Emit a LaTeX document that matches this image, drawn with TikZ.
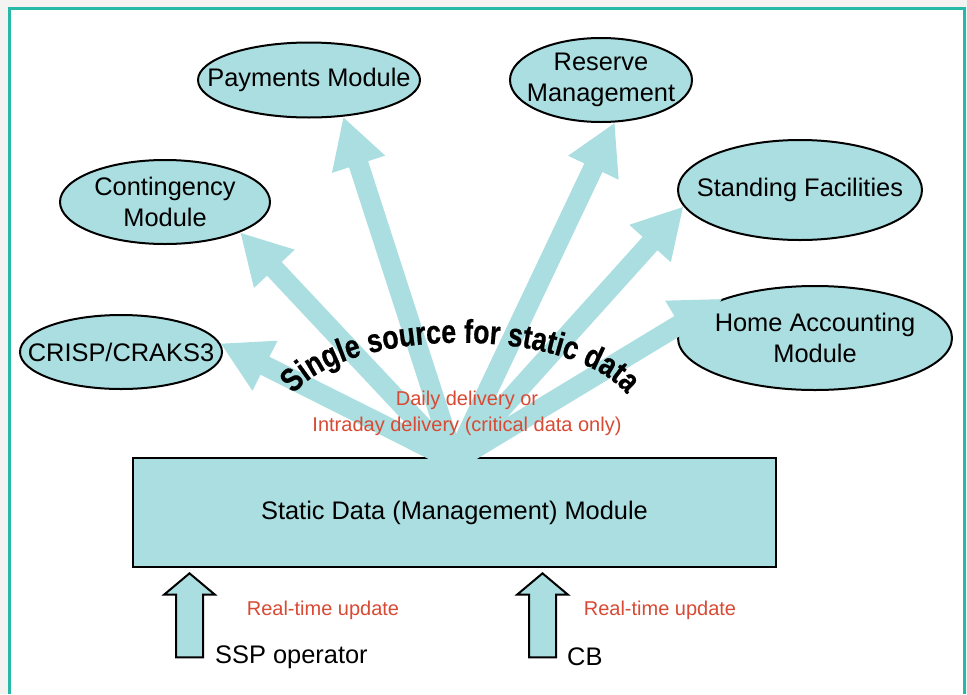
\documentclass[tikz,border=0pt]{standalone}
\usepackage{fontspec}
\setmainfont{Liberation Sans}
\newfontfamily\arcfont[FakeStretch=0.81, FakeBold=0.6]{Liberation Sans Bold}
\usetikzlibrary{arrows.meta,shapes.geometric,shapes.arrows,decorations.text}

\definecolor{modfill}{RGB}{171,222,224}
\definecolor{notered}{RGB}{216,74,52}
\definecolor{framegreen}{RGB}{38,185,168}
\definecolor{pagegray}{RGB}{243,243,241}

\tikzset{
    module/.style={ellipse, draw=black, line width=2pt, fill=modfill, inner sep=0pt},
    modtext/.style={font=\fontsize{25.4}{31}\selectfont, align=center, inner sep=0pt},
    feed/.style={draw=modfill, line width=20pt, -{Triangle[length=50pt,width=52pt]}},
    note/.style={text=notered, font=\fontsize{20}{26}\selectfont, align=center, inner sep=0pt},
    inflow/.style={single arrow, draw=black, line width=2pt, fill=modfill, rotate=90,
        minimum height=84pt, minimum width=49pt, single arrow head extend=12pt,
        single arrow tip angle=100, inner xsep=0pt, inner ysep=12.5pt},
}

\begin{document}
\begin{tikzpicture}[x=1pt, y=-1pt]
            \useasboundingbox (0,0) rectangle (967,694);
            \fill[pagegray] (0,0) rectangle (967,694);
            \fill[white] (9,8) rectangle (964,694);
            \draw[framegreen, line width=3pt] (9,694) -- (9,8) -- (964,8) -- (964,694);

            \node[draw=black, line width=2.5pt, fill=modfill, minimum width=643pt, minimum height=109pt,
                font=\fontsize{25.4}{31}\selectfont] (sdm) at (454.5,512.5) {Static Data (Management) Module};
            \coordinate (src) at ([yshift=-4pt]sdm.north);

            \node[module, minimum width=222pt, minimum height=75pt] (pay) at (309,80) {};
            \node[module, minimum width=182pt, minimum height=84pt] (res) at (601,80) {};
            \node[module, minimum width=210pt, minimum height=84pt] (cont) at (165,202) {};
            \node[module, minimum width=202pt, minimum height=74pt] (crisp) at (121,352) {};
            \node[module, minimum width=244pt, minimum height=100pt] (stand) at (800,190) {};
            \node[module, minimum width=274pt, minimum height=104pt] (home) at (815,338) {};

            \draw[feed] (src) -- (crisp.5);
            \draw[feed] (src) -- (cont.-22.5);
            \draw[feed] (src) -- (pay.-47);
            \draw[feed] (src) -- (res.-72);
            \draw[feed] (src) -- (stand.188);
            \draw[feed] (src) -- (home.157);

            \node[modtext] (paytext) at (pay) {Payments Module};
            \node[modtext] (restext) at (res) {Reserve\\Management};
            \node[modtext] (conttext) at (cont) {Contingency\\Module};
            \node[modtext] (crisptext) at (crisp) {CRISP/CRAKS3};
            \node[modtext] (standtext) at (stand) {Standing Facilities};
            \node[modtext] (hometext) at (home) {Home Accounting\\Module};

            \path[decorate, decoration={text along path, text align=center,
                text={|\arcfont\fontsize{33}{33}\selectfont|Single source for static data}}]
                (280,412) -- (292,396) .. controls (347,325) and (573,325) .. (628,396) -- (640,412);

            \node[note] (delivery) at (467,413) {Daily delivery or\\Intraday delivery (critical data only)};

            \node[inflow] (sspup) at (189.5,621) {};
            \node[inflow] (cbup) at (542.5,621) {};
            \node[note] (sspnote) at (323,610) {Real-time update};
            \node[note] (cbnote) at (660,610) {Real-time update};
            \node[modtext, anchor=west] (ssp) at (215,657) {SSP operator};
            \node[modtext, anchor=west] (cb) at (567,657) {CB};
        \end{tikzpicture}
\end{document}
